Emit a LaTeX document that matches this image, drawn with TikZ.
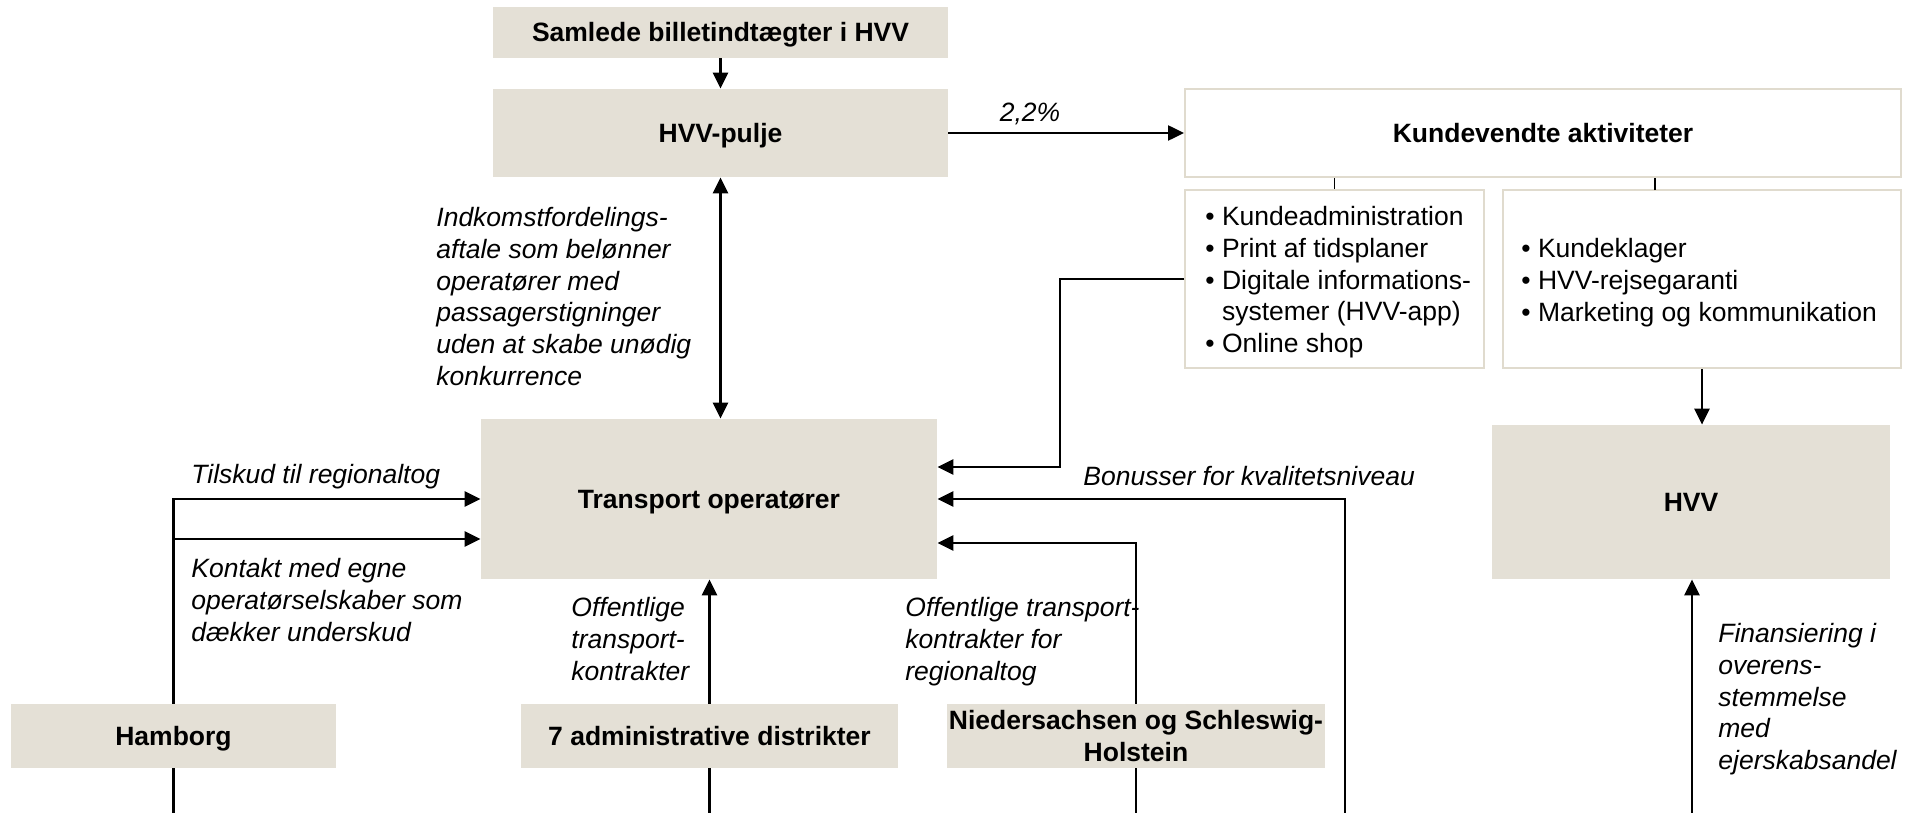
\documentclass[tikz,border=0pt]{standalone}
\usepackage{fontspec}
\setmainfont{Liberation Sans}
\usetikzlibrary{arrows.meta}
\definecolor{sand}{RGB}{228,224,214}
\definecolor{sandline}{RGB}{224,219,206}
\newcommand{\txtsize}{\fontsize{13.25}{15.85}\selectfont}
\begin{document}
\begin{tikzpicture}[x=0.5pt,y=-0.5pt,
  every node/.style={font=\txtsize},
  box/.style={fill=sand, inner sep=0pt, font=\txtsize\bfseries, align=center},
  oneline/.style={text height=9.5pt, text depth=0pt},
  wbox/.style={fill=white, draw=sandline, line width=1pt, inner sep=0pt},
  lbl/.style={font=\txtsize\itshape, align=left, inner sep=0pt, anchor=north west},
  lst/.style={font=\txtsize, align=left, inner sep=0pt, anchor=north west},
  link/.style={line width=1.25pt},
  flow/.style={link, -{Triangle[length=8pt,width=7.5pt]}},
  both/.style={link, {Triangle[length=8pt,width=7.5pt]}-{Triangle[length=8pt,width=7.5pt]}},
  tick/.style={line width=0.6pt}]
\useasboundingbox (0,0) rectangle (1917,813);

% boxes
\node[box, oneline, minimum width=227.5pt, minimum height=25.5pt] (sam) at (720.5,32.5) {Samlede billetindtægter i HVV};
\node[box, oneline, minimum width=227.5pt, minimum height=44pt] (pulje) at (720.5,133) {HVV-pulje};
\node[wbox, oneline, minimum width=358pt, minimum height=44pt, font=\txtsize\bfseries] (kunde) at (1543,133) {Kundevendte aktiviteter};
\node[wbox, minimum width=149.5pt, minimum height=89pt] (subA) at (1334.5,279) {};
\node[wbox, minimum width=199pt, minimum height=89pt] (subB) at (1702,279) {};
\node[box, oneline, minimum width=228pt, minimum height=80pt] (trans) at (709,499) {Transport operatører};
\node[box, oneline, minimum width=199pt, minimum height=77pt] (hvv) at (1691,502) {HVV};
\node[box, oneline, minimum width=162.5pt, minimum height=32pt] (ham) at (173.5,736) {Hamborg};
\node[box, oneline, minimum width=188.5pt, minimum height=32pt] (adm) at (709.5,736) {7 administrative distrikter};
\node[box, minimum width=189pt, minimum height=32pt] (nied) at (1136,736) {Niedersachsen og Schleswig-\\Holstein};

% bullet lists
\node[lst] (listA) at (1205,206) {\textbullet\ Kundeadministration\\
  \textbullet\ Print af tidsplaner\\
  \textbullet\ Digitale informations-\\
  \phantom{\textbullet\ }systemer (HVV-app)\\
  \textbullet\ Online shop};
\node[lst] (listB) at (1521,238) {\textbullet\ Kundeklager\\
  \textbullet\ HVV-rejsegaranti\\
  \textbullet\ Marketing og kommunikation};

% free ends at the lower edge
\coordinate (hamEnd) at (173.5,813);
\coordinate (admEnd) at (709.5,813);
\coordinate (niedEnd) at (1136,813);
\coordinate (bonEnd) at (1345,813);
\coordinate (finEnd) at (1692,813);
\coordinate (hamJoin) at (173.5,539);
\coordinate (kBend) at (1060,467);
\coordinate (tickB) at (1655,190);

% connectors
\draw[flow] (sam) -- (pulje);
\draw[both] (pulje.south) -- (pulje.south |- trans.north);
\draw[flow] (pulje) -- (kunde);
\draw[tick] (subA.north) -- (subA.north |- kunde.south);
\draw[tick] (tickB) -- (tickB |- kunde.south);
\draw[flow] (subA.west) -| (kBend) -- (kBend -| trans.east);
\draw[flow] (subB.south) -- (subB.south |- hvv.north);
\draw[flow] (finEnd) -- (finEnd |- hvv.south);
\draw[flow] (bonEnd) |- (trans.east);
\draw[flow] (nied.north) |- ([yshift=-22pt]trans.east);
\draw[link] (nied.south) -- (niedEnd);
\draw[flow] (ham.north) |- (trans.west);
\draw[flow] (hamJoin) -- (hamJoin -| trans.west);
\draw[link] (ham.south) -- (hamEnd);
\draw[flow] (adm.north) -- (adm.north |- trans.south);
\draw[link] (adm.south) -- (admEnd);

% connector labels
\node[lbl, anchor=center] (l22) at (1030,114) {2,2\%};
\node[lbl] (lIndk) at (436,207) {Indkomstfordelings-\\aftale som belønner\\operatører med\\passagerstigninger\\uden at skabe unødig\\konkurrence};
\node[lbl] (lTil) at (191,464) {Tilskud til regionaltog};
\node[lbl] (lKon) at (191,558) {Kontakt med egne\\operatørselskaber som\\dækker underskud};
\node[lbl] (lOff) at (571,597) {Offentlige\\transport-\\kontrakter};
\node[lbl] (lOffR) at (905,597) {Offentlige transport-\\kontrakter for\\regionaltog};
\node[lbl] (lBon) at (1083,466) {Bonusser for kvalitetsniveau};
\node[lbl] (lFin) at (1718,623) {Finansiering i\\overens-\\stemmelse\\med\\ejerskabsandel};
\end{tikzpicture}
\end{document}
